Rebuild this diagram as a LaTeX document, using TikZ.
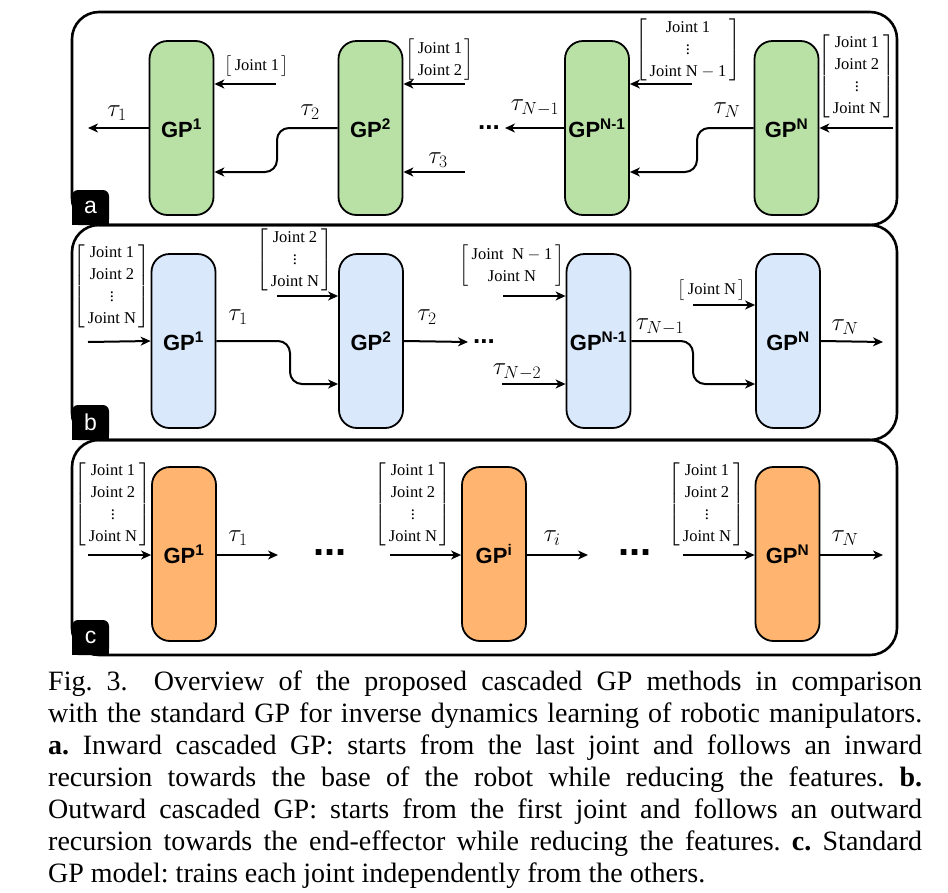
\RequirePackage{fix-cm}
\documentclass[tikz,border=0pt]{standalone}
\usepackage{amsmath}
\usepackage{fontspec}
\setmainfont{Liberation Serif}
\setsansfont{Liberation Sans}
\usetikzlibrary{arrows.meta}
\definecolor{gpgreen}{HTML}{B9E0A5}
\definecolor{gpblue}{HTML}{DAE8FC}
\definecolor{gporange}{HTML}{FFB570}
\newcommand{\gplabel}[1]{\textbf{GP\textsuperscript{#1}}}
\newcommand{\jnt}[1]{\text{\,Joint #1\,}}
\renewcommand{\arraystretch}{1.12}
\tikzset{every node/.style={inner sep=0pt},every path/.style={line join=round},
  gpbox/.style={draw=black,line width=1.8pt,rounded corners=18pt,minimum width=64pt,minimum height=174pt,font=\fontsize{22}{26}\selectfont\sffamily},
  feat/.style={font=\fontsize{16.5}{19.5}\selectfont},
  tq/.style={font=\fontsize{25}{29}\selectfont},
  dots/.style={font=\fontsize{#1}{#1}\selectfont\sffamily\bfseries},
  sig/.style={line width=2pt,-{Stealth[length=10pt,width=9pt,inset=3pt]}},
  frame/.style={line width=2.6pt,rounded corners=27pt},
  tab/.style={fill=black,text=white,rounded corners=6pt,minimum width=37pt,minimum height=35pt,font=\fontsize{23}{27}\selectfont\sffamily}}

\begin{document}
\begin{tikzpicture}[x=1pt,y=-1pt]
  \useasboundingbox (0,0) rectangle (948,892);
  % panels
  \foreach \t/\b in {12/225,225/440,440/655}
    \draw[frame] (72,\t) rectangle (897,\b);
  \foreach \l/\b in {a/225,b/440,c/655}{
    \fill (72,\b-16) rectangle (109,\b);
    \node[tab] (tab\l) at (90.5,\b-17.5) {\l};
  }

  % a. inward
  \node[gpbox,fill=gpgreen] (GPa1) at (181.5,128) {\gplabel{1}};
  \node[gpbox,fill=gpgreen] (GPa2) at (370.5,128) {\gplabel{2}};
  \node[gpbox,fill=gpgreen] (GPa3) at (597,128) {\gplabel{N-1}};
  \node[gpbox,fill=gpgreen] (GPa4) at (786.5,128) {\gplabel{N}};
  \node[feat] (fa1) at (257,66) {$\begin{bmatrix}\jnt{1}\end{bmatrix}$};
  \node[feat] (fa2) at (440,60) {$\begin{bmatrix}\jnt{1}\\\jnt{2}\end{bmatrix}$};
  \node[feat] (fa3) at (688,50) {$\begin{bmatrix}\jnt{1}\\\vdots\\\text{\,Joint N}-\text{1\,}\end{bmatrix}$};
  \node[feat] (fa4) at (857,76) {$\begin{bmatrix}\jnt{1}\\\jnt{2}\\\vdots\\\jnt{N}\end{bmatrix}$};
  \node[tq] (ta1) at (117,113) {$\tau_1$};
  \node[tq] (ta2) at (310,112) {$\tau_2$};
  \node[tq] (ta3) at (438,160) {$\tau_3$};
  \node[tq] (ta4) at (535,108) {$\tau_{N-1}$};
  \node[tq] (ta5) at (727,110) {$\tau_N$};
  \node[dots=26] (da) at (489,128) {...};
  \coordinate (oa1) at (88,128);
  \coordinate (oa3) at (505,128);
  \coordinate (ia1) at (276,84);
  \coordinate (ia2) at (465,84);
  \coordinate (ia3) at (465,172);
  \coordinate (ia4) at (692,84);
  \coordinate (ia5) at (893,128);
  \coordinate (wa2) at (277,172);
  \coordinate (wa4) at (697,172);
  \draw[sig] (GPa1.west) -- (oa1);
  \draw[sig] (GPa3.west) -- (oa3);
  \draw[sig] (ia1) -- (ia1 -| GPa1.east);
  \draw[sig] (ia2) -- (ia2 -| GPa2.east);
  \draw[sig] (ia3) -- (ia3 -| GPa2.east);
  \draw[sig] (ia4) -- (ia4 -| GPa3.east);
  \draw[sig] (ia5) -- (GPa4.east);
  \draw[sig,rounded corners=12pt] (GPa2.west) -| (wa2) -- (wa2 -| GPa1.east);
  \draw[sig,rounded corners=12pt] (GPa4.west) -| (wa4) -- (wa4 -| GPa3.east);

  % b. outward
  \node[gpbox,fill=gpblue] (GPb1) at (183.5,341) {\gplabel{1}};
  \node[gpbox,fill=gpblue] (GPb2) at (371,341) {\gplabel{2}};
  \node[gpbox,fill=gpblue] (GPb3) at (598.5,341) {\gplabel{N-1}};
  \node[gpbox,fill=gpblue] (GPb4) at (788,341) {\gplabel{N}};
  \node[feat] (fb1) at (112,286) {$\begin{bmatrix}\jnt{1}\\\jnt{2}\\\vdots\\\jnt{N}\end{bmatrix}$};
  \node[feat] (fb2) at (295,260) {$\begin{bmatrix}\jnt{2}\\\vdots\\\jnt{N}\end{bmatrix}$};
  \node[feat] (fb3) at (512,266) {$\begin{bmatrix}\text{\,Joint~ N}-\text{1\,}\\\jnt{N}\end{bmatrix}$};
  \node[feat] (fb4) at (712,290) {$\begin{bmatrix}\jnt{N}\end{bmatrix}$};
  \node[tq] (tb1) at (238,317) {$\tau_1$};
  \node[tq] (tb2) at (427,317) {$\tau_2$};
  \node[tq] (tb3) at (517,372) {$\tau_{N-2}$};
  \node[tq] (tb4) at (660,327) {$\tau_{N-1}$};
  \node[tq] (tb5) at (845,327) {$\tau_N$};
  \node[dots=26] (db) at (484,342) {...};
  \coordinate (ib1) at (88,342);
  \coordinate (ib2) at (277,296);
  \coordinate (ib3) at (503,296);
  \coordinate (ib4) at (502,384);
  \coordinate (ib5) at (693,305);
  \coordinate (ob2) at (468,342);
  \coordinate (ob4) at (883,342);
  \coordinate (wb1) at (290,384);
  \coordinate (wb3) at (693,384);
  \draw[sig] (ib1) -- (GPb1.west);
  \draw[sig] (ib2) -- (ib2 -| GPb2.west);
  \draw[sig] (ib3) -- (ib3 -| GPb3.west);
  \draw[sig] (ib4) -- (ib4 -| GPb3.west);
  \draw[sig] (ib5) -- (ib5 -| GPb4.west);
  \draw[sig] (GPb2.east) -- (ob2);
  \draw[sig] (GPb4.east) -- (ob4);
  \draw[sig,rounded corners=12pt] (GPb1.east) -| (wb1) -- (wb1 -| GPb2.west);
  \draw[sig,rounded corners=12pt] (GPb3.east) -| (wb3) -- (wb3 -| GPb4.west);

  % c. standard
  \node[gpbox,fill=gporange] (GPc1) at (184,554) {\gplabel{1}};
  \node[gpbox,fill=gporange] (GPc2) at (494,554) {\gplabel{i}};
  \node[gpbox,fill=gporange] (GPc3) at (787.5,554) {\gplabel{N}};
  \foreach \n/\x in {1/113,2/413,3/707}
    \node[feat] (fc\n) at (\x,504) {$\begin{bmatrix}\jnt{1}\\\jnt{2}\\\vdots\\\jnt{N}\end{bmatrix}$};
  \node[tq] (tc1) at (238,538) {$\tau_1$};
  \node[tq] (tc2) at (552,538) {$\tau_i$};
  \node[tq] (tc3) at (845,538) {$\tau_N$};
  \node[dots=40] (dc1) at (330,553) {...};
  \node[dots=40] (dc2) at (635,553) {...};
  \coordinate (ic1) at (88,555);
  \coordinate (ic2) at (390,555);
  \coordinate (ic3) at (683,555);
  \coordinate (oc1) at (278,555);
  \coordinate (oc2) at (588,555);
  \coordinate (oc3) at (883,555);
  \foreach \n in {1,2,3}{
    \draw[sig] (ic\n) -- (ic\n -| GPc\n.west);
    \draw[sig] (oc\n -| GPc\n.east) -- (oc\n);
  }

  % caption
  \node[anchor=north west,text width=874pt,align=justify,font=\fontsize{28}{32}\selectfont\frenchspacing] (caption) at (48,671)
    {Fig.~3.\hspace{12pt} Overview of the proposed cascaded GP methods in comparison\linebreak
     with the standard GP for inverse dynamics learning of robotic manipulators.\linebreak
     \textbf{a.} Inward cascaded GP: starts from the last joint and follows an inward\linebreak
     recursion towards the base of the robot while reducing the features. \textbf{b.}\linebreak
     Outward cascaded GP: starts from the first joint and follows an outward\linebreak
     recursion towards the end-effector while reducing the features. \textbf{c.} Standard\linebreak
     GP model: trains each joint independently from the others.};
\end{tikzpicture}
\end{document}
